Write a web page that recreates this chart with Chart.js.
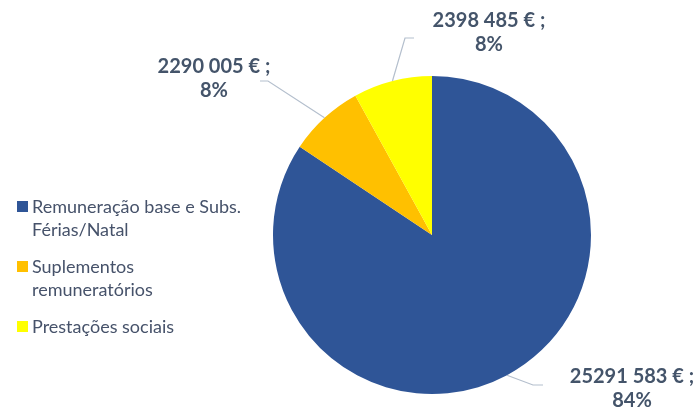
<!DOCTYPE html>
<html>
<head>
<meta charset="utf-8">
<script src="https://cdn.jsdelivr.net/npm/chart.js@4.4.0/dist/chart.umd.min.js"></script>
<style>
  html, body { margin: 0; padding: 0; background: #fff; }
  #wrap { width: 693px; height: 409px; }
</style>
</head>
<body>
<div id="wrap"><canvas id="pie" width="693" height="409"></canvas></div>
<script>
// data
const categories = [
    ['Remuneração base e Subs.', 'Férias/Natal'],
    ['Suplementos', 'remuneratórios'],
    ['Prestações sociais']
];
const amounts = [25291583, 2290005, 2398485];
const sliceColors = ['#2F5597', '#FFC000', '#FFFF00'];

// where the data labels sit (text centre, elbow and end of the leader line)
const labelLayout = [
    { x: 632, y: 383, elbow: [533, 385], end: [543, 385] },
    { x: 214, y: 73, elbow: [268, 81], end: [260, 81] },
    { x: 489, y: 27, elbow: [405, 38], end: [414, 38] }
];

const total = amounts.reduce((a, b) => a + b, 0);

function euro(v) {
    const hi = Math.floor(v / 1000);
    const lo = String(v % 1000).padStart(3, '0');
    return hi + '\u00a0' + lo + ' € ;';
}

const labelsPlugin = {
    id: 'pieLabels',
    afterDatasetsDraw(chart) {
        const ctx = chart.ctx;
        const arcs = chart.getDatasetMeta(0).data;
        ctx.save();

        // leader lines
        ctx.strokeStyle = '#B4BFCD';
        ctx.lineWidth = 1.2;
        arcs.forEach((arc, i) => {
            const p = arc.getProps(['x', 'y', 'startAngle', 'endAngle', 'outerRadius'], true);
            const mid = (p.startAngle + p.endAngle) / 2;
            const sx = p.x + Math.cos(mid) * p.outerRadius;
            const sy = p.y + Math.sin(mid) * p.outerRadius;
            const L = labelLayout[i];
            ctx.beginPath();
            ctx.moveTo(sx, sy);
            ctx.lineTo(L.elbow[0], L.elbow[1]);
            ctx.lineTo(L.end[0], L.end[1]);
            ctx.stroke();
        });

        // label text
        ctx.fillStyle = '#44546A';
        ctx.font = 'bold 20px Lato';
        ctx.textAlign = 'center';
        ctx.textBaseline = 'alphabetic';
        amounts.forEach((v, i) => {
            const L = labelLayout[i];
            ctx.fillText(euro(v), L.x, L.y);
            ctx.fillText(Math.round(v / total * 100) + '%', L.x, L.y + 24);
        });

        // legend
        ctx.textAlign = 'left';
        ctx.font = '18px Lato';
        let y = 213;
        categories.forEach((lines, i) => {
            ctx.fillStyle = sliceColors[i];
            ctx.fillRect(17, y - 12, 11, 11);
            ctx.fillStyle = '#46526A';
            lines.forEach((t, j) => {
                ctx.fillText(t, 32, y);
                y += 22.5;
            });
            y += 15;
        });
        ctx.restore();
    }
};

new Chart(document.getElementById('pie'), {
    type: 'pie',
    data: {
        labels: categories.map(c => c.join(' ')),
        datasets: [{
            data: amounts,
            backgroundColor: sliceColors,
            borderWidth: 0
        }]
    },
    options: {
        responsive: false,
        animation: false,
        layout: { padding: { left: 273, right: 102, top: 76, bottom: 15 } },
        plugins: {
            legend: { display: false },
            tooltip: { enabled: false }
        }
    },
    plugins: [labelsPlugin]
});
</script>
</body>
</html>
